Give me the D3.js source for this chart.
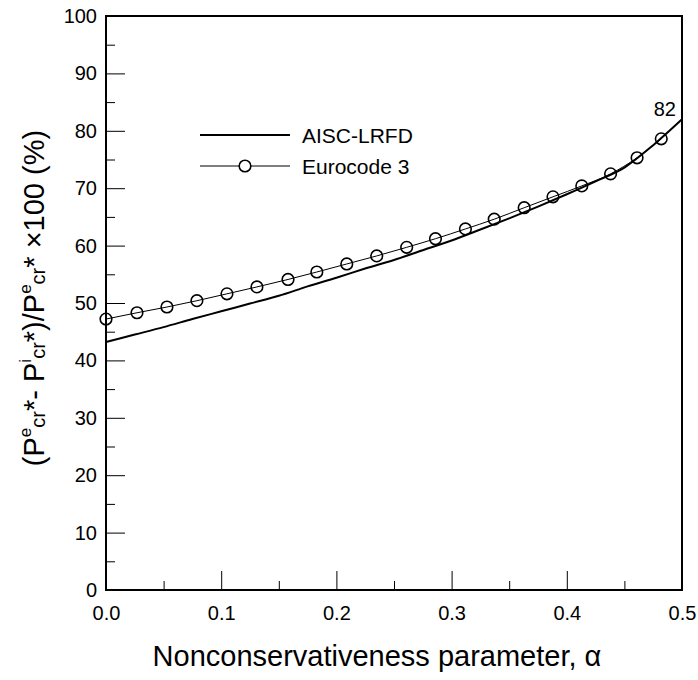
<!DOCTYPE html>
<html>
<head>
<meta charset="utf-8">
<script src="https://cdn.jsdelivr.net/npm/d3@7"></script>
<style>
  html, body { margin: 0; padding: 0; background: #fff; }
  svg { display: block; font-family: "Liberation Sans", Arial, sans-serif; }
</style>
</head>
<body>
<svg id="chart" width="698" height="680"></svg>
<script>
// Series names shown in the legend
const seriesNames = ["AISC-LRFD", "Eurocode 3"];

// AISC-LRFD curve: nonconservativeness parameter vs. percentage difference
const alphaAISC = [0, 0.025, 0.05, 0.075, 0.1, 0.125, 0.15, 0.175, 0.2, 0.225, 0.25,
                   0.275, 0.3, 0.325, 0.35, 0.375, 0.4, 0.425, 0.45, 0.475, 0.5];
const valueAISC = [43.2, 44.5, 45.8, 47.2, 48.55, 49.9, 51.25, 52.9, 54.4, 56.0, 57.5,
                   59.2, 60.9, 62.8, 64.75, 66.8, 68.95, 71.2, 73.6, 77.5, 82.0];

// Eurocode 3 curve with circle markers
const alphaEC = [0, 0.0269, 0.0529, 0.0789, 0.105, 0.131, 0.158, 0.183, 0.209, 0.235,
                 0.261, 0.286, 0.312, 0.337, 0.363, 0.388, 0.413, 0.438, 0.461, 0.482];
const valueEC = [47.2, 48.3, 49.3, 50.4, 51.6, 52.8, 54.1, 55.4, 56.8, 58.2,
                 59.7, 61.2, 62.9, 64.6, 66.6, 68.5, 70.4, 72.5, 75.3, 78.6];

// Axis ticks
const xTicks = [0, 0.1, 0.2, 0.3, 0.4, 0.5];
const xTickLabels = ["0.0", "0.1", "0.2", "0.3", "0.4", "0.5"];
const xMinorTicks = [0.05, 0.15, 0.25, 0.35, 0.45];
const yTicks = [0, 10, 20, 30, 40, 50, 60, 70, 80, 90, 100];
const yMinorTicks = [5, 15, 25, 35, 45, 55, 65, 75, 85, 95];

// End value annotated on the AISC-LRFD curve
const endLabelValue = 82;

const svg = d3.select("#chart");
const plot = { left: 106, right: 682, top: 16, bottom: 590 };

const x = d3.scaleLinear().domain([0, 0.5]).range([plot.left, plot.right]);
const y = d3.scaleLinear().domain([0, 100]).range([plot.bottom, plot.top]);

// Minor ticks (inward, no labels)
svg.append("g")
  .attr("transform", `translate(0,${plot.bottom})`)
  .call(d3.axisBottom(x).tickValues(xMinorTicks).tickSize(-9).tickFormat(""))
  .call(g => g.select(".domain").remove());
svg.append("g")
  .attr("transform", `translate(${plot.left},0)`)
  .call(d3.axisLeft(y).tickValues(yMinorTicks).tickSize(-9).tickFormat(""))
  .call(g => g.select(".domain").remove());

// Major ticks with labels
const xAxis = svg.append("g")
  .attr("transform", `translate(0,${plot.bottom})`)
  .call(d3.axisBottom(x).tickValues(xTicks).tickSize(-19).tickPadding(16)
    .tickFormat((d, i) => xTickLabels[i]));
xAxis.select(".domain").remove();

const yAxis = svg.append("g")
  .attr("transform", `translate(${plot.left},0)`)
  .call(d3.axisLeft(y).tickValues(yTicks).tickSize(-19).tickPadding(9));
yAxis.select(".domain").remove();

svg.selectAll(".tick line").attr("stroke", "#000").attr("stroke-width", 1);
svg.selectAll(".tick text")
  .attr("fill", "#000")
  .style("font-size", "20px")
  .style("font-family", "'Liberation Sans', Arial, sans-serif");

// Plot frame
svg.append("rect")
  .attr("x", plot.left).attr("y", plot.top)
  .attr("width", plot.right - plot.left).attr("height", plot.bottom - plot.top)
  .attr("fill", "none").attr("stroke", "#000").attr("stroke-width", 2);

const line = d3.line().curve(d3.curveMonotoneX)
  .x(d => x(d[0])).y(d => y(d[1]));

const aiscData = alphaAISC.map((a, i) => [a, valueAISC[i]]);
const ecData = alphaEC.map((a, i) => [a, valueEC[i]]);

// Eurocode 3 line
svg.append("path").datum(ecData)
  .attr("d", line).attr("fill", "none")
  .attr("stroke", "#000").attr("stroke-width", 1);

// AISC-LRFD line
svg.append("path").datum(aiscData)
  .attr("d", line).attr("fill", "none")
  .attr("stroke", "#000").attr("stroke-width", 2);

// Eurocode 3 markers
svg.append("g").selectAll("circle").data(ecData).join("circle")
  .attr("cx", d => x(d[0])).attr("cy", d => y(d[1]))
  .attr("r", 5.8).attr("fill", "none")
  .attr("stroke", "#000").attr("stroke-width", 1.6);

// End value annotation
svg.append("text")
  .attr("x", x(0.5) - 6).attr("y", y(endLabelValue) - 3)
  .attr("text-anchor", "end")
  .style("font-size", "20px")
  .text(endLabelValue);

// Legend
const legend = svg.append("g");
legend.append("line").attr("x1", 200).attr("x2", 290).attr("y1", 135).attr("y2", 135)
  .attr("stroke", "#000").attr("stroke-width", 2);
legend.append("text").attr("x", 302).attr("y", 143)
  .style("font-size", "21px").text(seriesNames[0]);
legend.append("line").attr("x1", 200).attr("x2", 290).attr("y1", 166).attr("y2", 166)
  .attr("stroke", "#000").attr("stroke-width", 1);
legend.append("circle").attr("cx", 245).attr("cy", 166).attr("r", 5.8)
  .attr("fill", "#fff").attr("stroke", "#000").attr("stroke-width", 1.6);
legend.append("text").attr("x", 302).attr("y", 174)
  .style("font-size", "21px").text(seriesNames[1]);

// X axis title
svg.append("text")
  .attr("x", 377).attr("y", 666)
  .attr("text-anchor", "middle")
  .style("font-size", "29px")
  .text("Nonconservativeness parameter, α");

// Y axis title with super/subscripts
const yTitle = svg.append("text")
  .attr("transform", "translate(44,298) rotate(-90)")
  .attr("text-anchor", "middle")
  .style("font-size", "29px");
const parts = [
  ["(P", 0, 29], ["e", -13, 17], ["cr", 14, 20], ["*- P", -1, 29], ["i", -13, 17],
  ["cr", 14, 20], ["*)/P", -1, 29], ["e", -13, 17], ["cr", 14, 20], ["* \u00d7100 (%)", -1, 29]
];
parts.forEach(([t, dy, fs]) => {
  yTitle.append("tspan").attr("dy", dy).style("font-size", fs + "px").text(t);
});
</script>
</body>
</html>
